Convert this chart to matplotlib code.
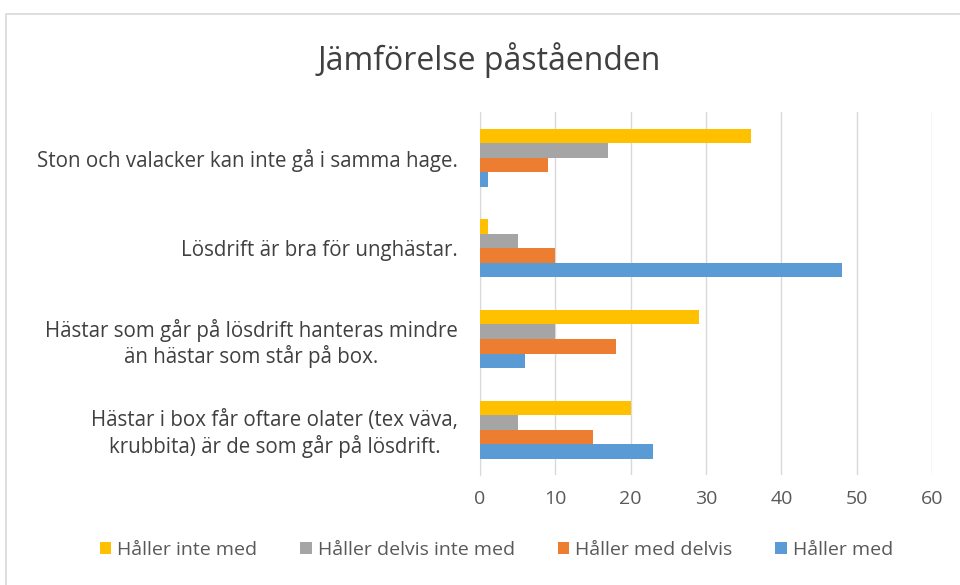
import numpy as np
import matplotlib.pyplot as plt
from matplotlib.patches import Rectangle

plt.rcParams['font.family'] = ['Open Sans', 'DejaVu Sans']

# categories listed bottom -> top (Excel order)
categories = ['Hästar i box får oftare olater (tex väva,\nkrubbita) är de som går på lösdrift.',
              'Hästar som går på lösdrift hanteras mindre\nän hästar som står på box.',
              'Lösdrift är bra för unghästar.',
              'Ston och valacker kan inte gå i samma hage.']
series_names = ['Håller med', 'Håller med delvis', 'Håller delvis inte med', 'Håller inte med']
haller_med = [23, 6, 48, 1]
med_delvis = [15, 18, 10, 9]
delvis_inte = [5, 10, 5, 17]
inte_med = [20, 29, 1, 36]
colors = ['#5B9BD5', '#ED7D31', '#A5A5A5', '#FFC000']

fig = plt.figure(figsize=(9.6, 5.85), dpi=100)
fig.patches.append(Rectangle((6/960, -0.01), 1.0, 1 - 14/585 + 0.01, transform=fig.transFigure,
                             fill=False, edgecolor='#D9D9D9', linewidth=1.2))
ax = fig.add_axes([0.5, 0.188, 0.471, 0.62])

y = np.arange(len(categories))
h = 0.16
vals = [haller_med, med_delvis, delvis_inte, inte_med]
for i, (v, c, n) in enumerate(zip(vals, colors, series_names)):
    ax.barh(y - 1.5*h + i*h, v, height=h, color=c, label=n, zorder=3)

ax.set_xlim(0, 60)
ax.set_ylim(-0.5, 3.5)
ax.set_xticks(range(0, 61, 10))
ax.set_yticks(y)
ax.set_yticklabels(categories, fontsize=14.8, color='#404040', ha='right', multialignment='center')
ax.tick_params(axis='x', labelsize=14, labelcolor='#595959', length=0, pad=11)
ax.tick_params(axis='y', length=0, pad=16)
ax.grid(axis='x', color='#D9D9D9', linewidth=1, zorder=0)
for s in ['top', 'right', 'bottom']:
    ax.spines[s].set_visible(False)
ax.spines['left'].set_color('#D9D9D9')

fig.suptitle('Jämförelse påståenden', x=0.51, y=0.928, fontsize=23, color='#404040')

handles, labels = ax.get_legend_handles_labels()
fig.legend(handles[::-1], labels[::-1], loc='center', bbox_to_anchor=(0.517, 0.06), ncol=4,
           frameon=False, fontsize=14, labelcolor='#595959', handlelength=0.6, handleheight=0.6,
           handletextpad=0.3, columnspacing=2.2)

plt.savefig('out.png')
